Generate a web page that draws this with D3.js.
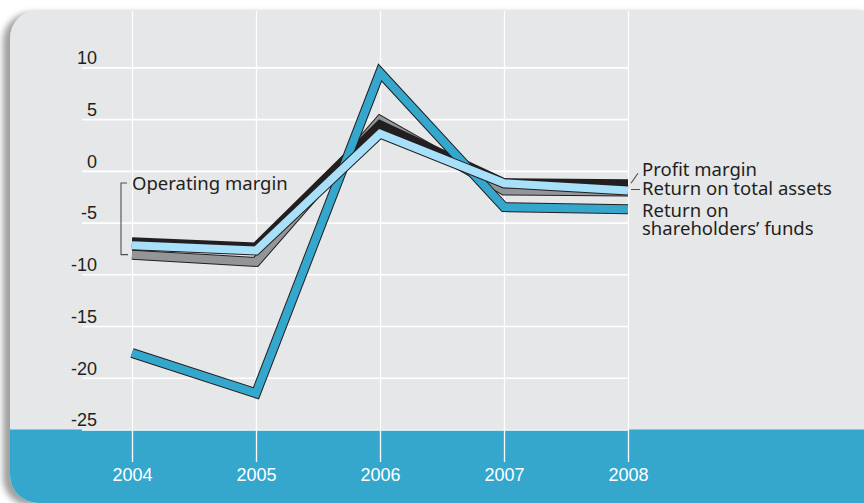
<!DOCTYPE html>
<html>
<head>
<meta charset="utf-8">
<script src="https://cdn.jsdelivr.net/npm/d3@7"></script>
<style>
  html, body { margin: 0; padding: 0; background: #fff; }
  svg { display: block; font-family: "Noto Sans", sans-serif; }
  .y-axis text { font-size: 18px; fill: #231f20; }
  .x-axis text { font-size: 18px; fill: #fff; }
  .label { font-size: 18.5px; fill: #231f20; }
</style>
</head>
<body>
<svg id="chart"></svg>
<script>
'use strict';

const years = [2004, 2005, 2006, 2007, 2008];
const yTicks = [10, 5, 0, -5, -10, -15, -20, -25];
const operatingMargin = [-8.1, -8.8, 4.9, -1.9, -2.0];
const profitMargin = [-6.9, -7.4, 4.4, -1.2, -1.3];
const returnOnAssets = [-7.2, -7.7, 3.6, -1.2, -1.9];
const returnOnEquity = [-17.6, -21.5, 9.5, -3.5, -3.7];

const width = 864;
const height = 503;

// draw order matters: later ribbons sit on top
const series = [
  { name: 'Operating margin', values: operatingMargin, color: '#939598' },
  { name: 'Profit margin', values: profitMargin, color: '#231f20' },
  { name: "Return on shareholders' funds", values: returnOnEquity, color: '#35a7cd' },
  { name: 'Return on total assets', values: returnOnAssets, color: '#a7e0f8' }
];

const svg = d3.select('#chart')
    .attr('width', width)
    .attr('height', height);

const defs = svg.append('defs');

const shadow = defs.append('filter')
    .attr('id', 'shadow')
    .attr('x', '-5%').attr('y', '-5%')
    .attr('width', '110%').attr('height', '110%');
shadow.append('feDropShadow')
    .attr('dx', -7).attr('dy', 3)
    .attr('stdDeviation', 3)
    .attr('flood-color', '#777')
    .attr('flood-opacity', 0.7);

const panel = { x: 10, y: 10, w: 880, h: 493, r: 28 };

defs.append('clipPath')
    .attr('id', 'panel-clip')
  .append('rect')
    .attr('x', panel.x).attr('y', panel.y)
    .attr('width', panel.w).attr('height', panel.h)
    .attr('rx', panel.r);

svg.append('rect')
    .attr('x', panel.x).attr('y', panel.y)
    .attr('width', panel.w).attr('height', panel.h)
    .attr('rx', panel.r)
    .attr('fill', '#e6e7e8')
    .attr('filter', 'url(#shadow)');

const x = d3.scalePoint()
    .domain(years)
    .range([132, 628]);

const y = d3.scaleLinear()
    .domain([-25, 10])
    .range([429.5, 67.4]);

const body = svg.append('g')
    .attr('clip-path', 'url(#panel-clip)');

// blue footer band
body.append('rect')
    .attr('x', 0)
    .attr('y', y(-25))
    .attr('width', width + 40)
    .attr('height', height - y(-25) + 10)
    .attr('fill', '#35a7cd');

const gridLeft = 82;
const gridTop = panel.y + 1;
const gridBottom = 462;

const yAxis = d3.axisLeft(y)
    .tickValues(yTicks)
    .tickFormat(d => d)
    .tickSize(x(2008) - gridLeft)
    .tickPadding(-15);

body.append('g')
    .attr('class', 'y-axis')
    .attr('transform', `translate(${x(2008)}, 0)`)
    .call(yAxis)
    .call(g => g.select('.domain').remove())
    .call(g => g.selectAll('.tick line')
        .attr('stroke', '#fff')
        .attr('stroke-width', 1.6))
    .call(g => g.selectAll('.tick text')
        .attr('dy', '-0.2em'));

const xAxis = d3.axisBottom(x)
    .tickSize(gridBottom - gridTop)
    .tickPadding(6);

body.append('g')
    .attr('class', 'x-axis')
    .attr('transform', `translate(0, ${gridTop})`)
    .call(xAxis)
    .call(g => g.select('.domain').remove())
    .call(g => g.selectAll('.tick line')
        .attr('stroke', '#fff')
        .attr('stroke-width', 1.3));

const line = d3.line()
    .x((d, i) => x(years[i]))
    .y(d => y(d));

const ribbons = body.append('g')
    .attr('fill', 'none')
    .attr('stroke-linejoin', 'miter')
    .attr('stroke-miterlimit', 20)
    .attr('stroke-linecap', 'butt');

series.forEach(s => {
  ribbons.append('path')
      .attr('d', line(s.values))
      .attr('stroke', '#231f20')
      .attr('stroke-width', 10);
  ribbons.append('path')
      .attr('d', line(s.values))
      .attr('stroke', s.color)
      .attr('stroke-width', 8);
});

// annotations
const ann = body.append('g')
    .attr('fill', 'none')
    .attr('stroke', '#4d4d4f')
    .attr('stroke-width', 1.1);

const bx = x(2004) - 11;
const bTop = 183;
const bBottom = y(operatingMargin[0]);
ann.append('path')
    .attr('d', `M${bx + 6},${bTop}H${bx}V${bBottom}H${bx + 7}`);

body.append('text')
    .attr('class', 'label')
    .attr('x', bx + 11)
    .attr('y', 190)
    .text('Operating margin');

const rx = x(2008);
ann.append('path')
    .attr('d', `M${rx + 3},${y(profitMargin[4]) - 1}L${rx + 10},${y(profitMargin[4]) - 11}`);
ann.append('path')
    .attr('d', `M${rx + 3},${y(returnOnAssets[4]) - 1}H${rx + 12}`);

const labels = [
  { text: 'Profit margin', y: 176 },
  { text: 'Return on total assets', y: 195 },
  { text: 'Return on', y: 217 },
  { text: 'shareholders\u2019 funds', y: 235 }
];

body.selectAll('.right-label')
  .data(labels)
  .join('text')
    .attr('class', 'label right-label')
    .attr('x', rx + 14)
    .attr('y', d => d.y)
    .text(d => d.text);
</script>
</body>
</html>
